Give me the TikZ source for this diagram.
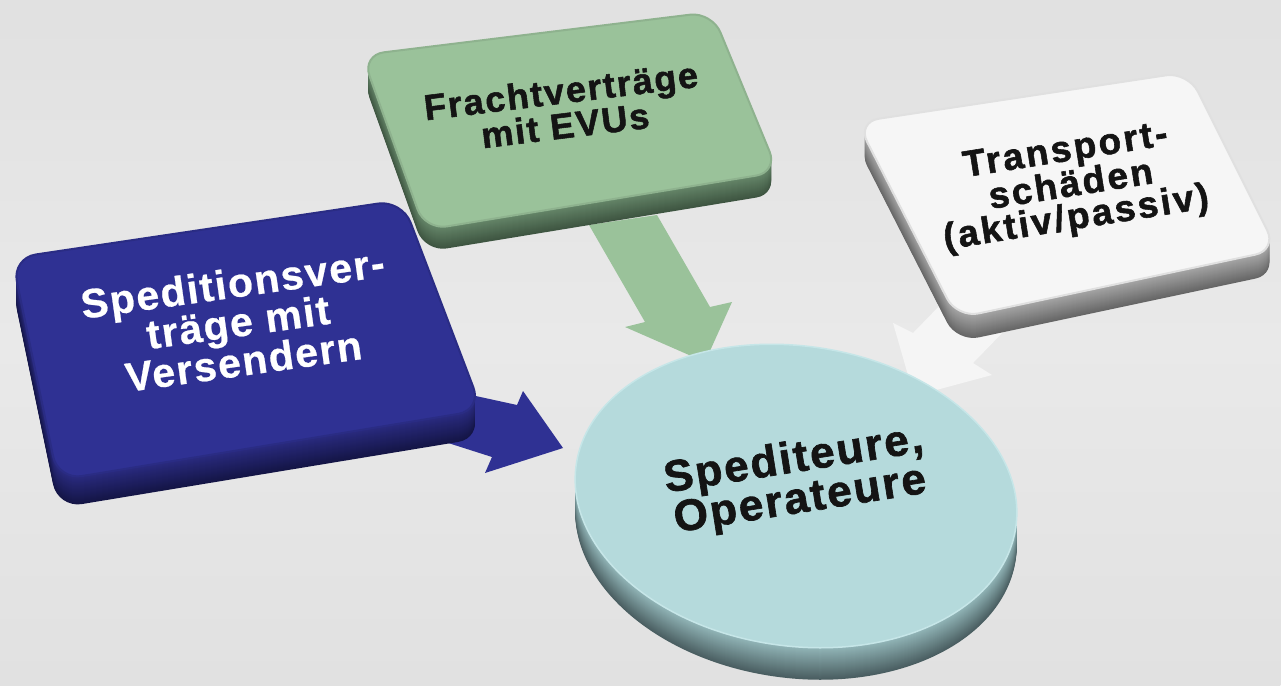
\documentclass[tikz,border=0pt]{standalone}
\usepackage{fontspec}
\setmainfont{Liberation Sans}
\newfontfamily\lblfont{Liberation Sans}
\definecolor{bgA}{HTML}{D3D3D3}
\definecolor{bgB}{HTML}{E9E9E9}
\definecolor{bgC}{HTML}{D4D4D4}
\definecolor{blueTop}{HTML}{2F3193}
\definecolor{blueSideA}{HTML}{2A2B80}
\definecolor{blueSideB}{HTML}{141546}
\definecolor{greenTop}{HTML}{9AC29A}
\definecolor{greenSideA}{HTML}{66876A}
\definecolor{greenSideB}{HTML}{3E5541}
\definecolor{whiteTop}{HTML}{F6F6F6}
\definecolor{whiteSideA}{HTML}{A8A8A8}
\definecolor{whiteSideB}{HTML}{666666}
\definecolor{tealTop}{HTML}{B5DADC}
\definecolor{tealRim}{HTML}{C6E6E8}
\definecolor{tealSideA}{HTML}{93B7B9}
\definecolor{tealSideB}{HTML}{4A5E61}
\definecolor{arrowWhite}{HTML}{F5F5F5}
\tikzset{
  boxtext/.style={align=center, inner sep=0pt},
  darktext/.style={boxtext, text=black!92},
}
\begin{document}
\begin{tikzpicture}[x=1pt,y=-1pt]
\useasboundingbox (0,0) rectangle (1281,685);
\begin{scope}
  \clip (0,0) rectangle (1281,685);
  \shade[shift={(640.5,342.5)}, rotate=28.1, top color=bgA, bottom color=bgC, middle color=bgB] (-760,-604) rectangle (760,604);
\end{scope}

% block arrows (under the shapes)
\fill[blueTop] (430,386) -- (517,405) -- (523,391) -- (563,448) -- (485,473) -- (492,457) -- (420,434) -- cycle;
\fill[greenTop] (589,225) -- (645,322) -- (625,327) -- (705,362) -- (732,302) -- (710,307) -- (657,215) -- cycle;
\fill[arrowWhite] (950,295) -- (913,333) -- (893,323) -- (914,396) -- (992,375) -- (973,363) -- (1012,323) -- cycle;

% green box
\foreach \k in {22,21,...,1}{
  \pgfmathsetmacro\pc{100*\k/22}
  \fill[greenSideB!\pc!greenSideA, rounded corners=22pt, shift={(0,\k)}]
    (362,55) -- (712,12) -- (778,172) -- (425,230) -- cycle;
}
\fill[greenTop, draw=greenTop!92!black, line width=2pt, rounded corners=22pt] (362,55) -- (712,12) -- (778,172) -- (425,230) -- cycle;

% white box
\foreach \k in {24,23,...,1}{
  \pgfmathsetmacro\pc{100*\k/24}
  \fill[whiteSideB!\pc!whiteSideA, rounded corners=22pt, shift={(0,\k)}]
    (857,122) -- (1188,72) -- (1277,250) -- (957,318) -- cycle;
}
\fill[whiteTop, draw=white!88!black, line width=2pt, rounded corners=22pt] (857,122) -- (1188,72) -- (1277,250) -- (957,318) -- cycle;

% blue box
\foreach \k in {28,27,...,1}{
  \pgfmathsetmacro\pc{100*\k/28}
  \fill[blueSideB!\pc!blueSideA, rounded corners=24pt, shift={(0,\k)}]
    (12,258) -- (402,200) -- (482,410) -- (58,480) -- cycle;
}
\fill[blueTop, draw=blueTop!90!black, line width=2pt, rounded corners=24pt] (12,258) -- (402,200) -- (482,410) -- (58,480) -- cycle;

% circle
\foreach \k in {32,31,...,1}{
  \pgfmathsetmacro\pc{100*\k/32}
  \fill[tealSideB!\pc!tealSideA] (796,{496+\k}) ellipse[x radius=222, y radius=150, rotate=-8];
}
\fill[tealTop, draw=tealRim, line width=1.5pt] (796,496) ellipse[x radius=222, y radius=150, rotate=-8];

% texts
\node[boxtext, text=white, rotate=8, font=\lblfont\bfseries\addfontfeature{LetterSpace=4,FakeBold=0.6}\fontsize{41}{37}\selectfont] (bluetxt) at (238,322) {Speditionsver-\\träge mit\\Versendern};

\node[darktext, rotate=7, font=\lblfont\bfseries\addfontfeature{LetterSpace=5,FakeBold=1.5}\fontsize{36}{31}\selectfont] (greentxt) at (563,108) {Frachtverträge\\mit EVUs};

\node[darktext, rotate=9, font=\lblfont\bfseries\addfontfeature{LetterSpace=7,FakeBold=1.5}\fontsize{37}{33}\selectfont] (whitetxt) at (1071,186) {Transport-\\schäden\\(aktiv/passiv)};

\node[darktext, rotate=9, font=\lblfont\bfseries\addfontfeature{LetterSpace=5,FakeBold=1.5}\fontsize{44}{39}\selectfont] (circtxt) at (797,481) {Spediteure,\\Operateure};
\end{tikzpicture}
\end{document}
